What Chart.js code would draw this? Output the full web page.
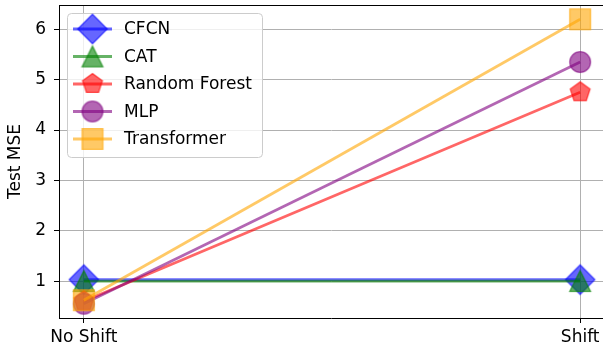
<!DOCTYPE html>
<html>
<head>
<meta charset="utf-8">
<script src="https://cdn.jsdelivr.net/npm/chart.js@4.4.1/dist/chart.umd.min.js"></script>
<style>
  html, body { margin: 0; padding: 0; background: #fff; }
  #wrap { width: 603px; height: 347px; position: relative; }
</style>
</head>
<body>
<div id="wrap"><canvas id="mseChart"></canvas></div>
<script>
// Kategorien und Werte (Test MSE je Modell)
const kategorien = ["No Shift", "Shift"];
const yTicks = [1, 2, 3, 4, 5, 6];
const modelle = ["CFCN", "CAT", "Random Forest", "MLP", "Transformer"];
const cfcnWerte = [1.03, 1.03];
const catWerte = [1.0, 1.0];
const rfWerte = [0.60, 4.75];
const mlpWerte = [0.55, 5.35];
const transformerWerte = [0.62, 6.2];

const farben = ["rgba(0,0,255,0.6)", "rgba(0,128,0,0.6)", "rgba(255,0,0,0.6)", "rgba(128,0,128,0.6)", "rgba(255,165,0,0.6)"];
const formen = ["diamond", "triangle", "pentagon", "circle", "square"];
const alleWerte = [cfcnWerte, catWerte, rfWerte, mlpWerte, transformerWerte];

const FONT = "DejaVu Sans";
const MS = 20.8; // Markergroesse in px

function markerPfad(ctx, form, x, y) {
  const h = MS / 2;
  ctx.beginPath();
  if (form === "diamond") {
    const d = h * Math.SQRT2;
    ctx.moveTo(x, y - d); ctx.lineTo(x + d, y); ctx.lineTo(x, y + d); ctx.lineTo(x - d, y);
  } else if (form === "triangle") {
    ctx.moveTo(x, y - h); ctx.lineTo(x + h, y + h); ctx.lineTo(x - h, y + h);
  } else if (form === "pentagon") {
    for (let i = 0; i < 5; i++) {
      const a = -Math.PI / 2 + i * 2 * Math.PI / 5;
      const px = x + h * Math.cos(a), py = y + h * Math.sin(a);
      if (i === 0) ctx.moveTo(px, py); else ctx.lineTo(px, py);
    }
  } else if (form === "circle") {
    ctx.arc(x, y, h, 0, Math.PI * 2);
  } else {
    ctx.rect(x - h, y - h, 2 * h, 2 * h);
  }
  ctx.closePath();
}

function markerBild(form, farbe) {
  const c = document.createElement("canvas");
  c.width = 34; c.height = 34;
  const ctx = c.getContext("2d");
  markerPfad(ctx, form, 17, 17);
  ctx.fillStyle = farbe;
  ctx.fill();
  ctx.lineWidth = 1.4;
  ctx.strokeStyle = farbe;
  ctx.stroke();
  return c;
}

const bilder = formen.map((f, i) => markerBild(f, farben[i]));

const datasets = modelle.map((name, i) => ({
  label: name,
  data: alleWerte[i].map((v, k) => ({ x: k, y: v })),
  borderColor: farben[i],
  backgroundColor: farben[i],
  borderWidth: 2.8,
  pointStyle: bilder[i],
  pointRadius: 10,
  pointHoverRadius: 10,
  order: modelle.length - i,
  clip: false,
  tension: 0
}));

// Legende innerhalb der Zeichenflaeche, oben links
const legendePlugin = {
  id: "legende",
  afterDatasetsDraw(chart) {
    const ctx = chart.ctx;
    const area = chart.chartArea;
    const x0 = area.left + 8, y0 = area.top + 8;
    const w = 195, h = 144, r = 4;
    ctx.save();
    ctx.beginPath();
    ctx.roundRect(x0 + 0.5, y0 + 0.5, w, h, r);
    ctx.fillStyle = "rgba(255,255,255,0.8)";
    ctx.fill();
    ctx.strokeStyle = "#cccccc";
    ctx.lineWidth = 1;
    ctx.stroke();
    ctx.font = "17px '" + FONT + "'";
    ctx.textBaseline = "middle";
    modelle.forEach((name, i) => {
      const y = y0 + 16 + i * 27.5;
      ctx.beginPath();
      ctx.moveTo(x0 + 6, y);
      ctx.lineTo(x0 + 45, y);
      ctx.strokeStyle = farben[i];
      ctx.lineWidth = 2.8;
      ctx.stroke();
      ctx.drawImage(bilder[i], x0 + 25.5 - 17, y - 17);
      ctx.fillStyle = "#000";
      ctx.fillText(name, x0 + 57, y + 1);
    });
    ctx.restore();
  }
};

// obere Rahmenlinie
const rahmenPlugin = {
  id: "rahmen",
  afterDraw(chart) {
    const ctx = chart.ctx;
    const a = chart.chartArea;
    ctx.save();
    ctx.strokeStyle = "#000";
    ctx.lineWidth = 1;
    ctx.beginPath();
    ctx.moveTo(a.left, a.top + 0.5);
    ctx.lineTo(a.right, a.top + 0.5);
    ctx.stroke();
    ctx.restore();
  }
};

new Chart(document.getElementById("mseChart"), {
  type: "line",
  data: { datasets },
  plugins: [rahmenPlugin, legendePlugin],
  options: {
    responsive: true,
    maintainAspectRatio: false,
    devicePixelRatio: 1,
    animation: false,
    layout: { autoPadding: false, padding: { top: 5, right: 0, left: 0, bottom: 0 } },
    plugins: { legend: { display: false }, tooltip: { enabled: false } },
    scales: {
      x: {
        type: "linear",
        min: -0.05,
        max: 1.046,
        afterBuildTicks: (s) => { s.ticks = kategorien.map((_, i) => ({ value: i })); },
        afterFit: (s) => { s.height = 29; s.paddingLeft = 0; s.paddingRight = 0; },
        grid: { color: "#b0b0b0", lineWidth: 1, tickColor: "#000", tickLength: 5 },
        border: { color: "#000", width: 1 },
        ticks: {
          color: "#000",
          font: { family: FONT, size: 17 },
          padding: 4,
          maxRotation: 0,
          callback: (v) => kategorien[v]
        }
      },
      y: {
        min: 0.267,
        max: 6.483,
        afterBuildTicks: (s) => { s.ticks = yTicks.map((v) => ({ value: v })); },
        afterFit: (s) => { s.width = 59; s.paddingTop = 0; s.paddingBottom = 0; },
        grid: { color: "#b0b0b0", lineWidth: 1, tickColor: "#000", tickLength: 5 },
        border: { color: "#000", width: 1 },
        title: { display: true, text: "Test MSE", color: "#000", font: { family: FONT, size: 17 }, padding: { top: 5, bottom: 0 } },
        ticks: { color: "#000", font: { family: FONT, size: 17 }, padding: 8 }
      }
    }
  }
});
</script>
</body>
</html>
